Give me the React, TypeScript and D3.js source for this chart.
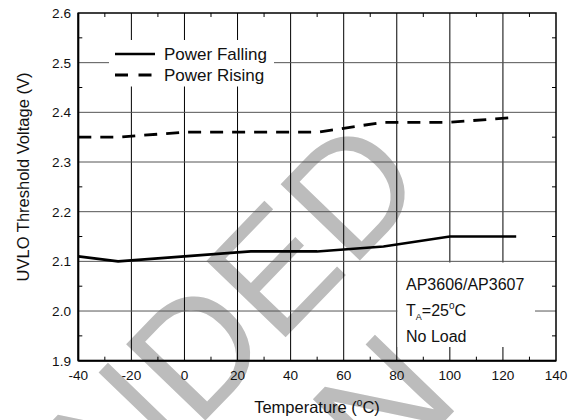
import React from "react";
import * as d3 from "d3";

// Temperature (°C) sample points
const temps = [-40, -25, 0, 25, 50, 75, 100, 125];
// UVLO threshold (V)
const powerFalling = [2.11, 2.1, 2.11, 2.12, 2.12, 2.13, 2.15, 2.15];
const powerRising = [2.35, 2.35, 2.36, 2.36, 2.36, 2.38, 2.38, 2.39];

const xTicks = [-40, -20, 0, 20, 40, 60, 80, 100, 120, 140];
const yTicks = [1.9, 2.0, 2.1, 2.2, 2.3, 2.4, 2.5, 2.6];
const xMinor = d3.range(-30, 140, 20);
const yMinor = [1.95, 2.05, 2.15, 2.25, 2.35, 2.45, 2.55];

const W = 582;
const H = 420;
const FONT = "'Liberation Sans', Arial, Helvetica, sans-serif";

export default function App() {
  const x = d3.scaleLinear().domain([-40, 140]).range([78.3, 556]);
  const y = d3.scaleLinear().domain([1.9, 2.6]).range([360.7, 13]);
  const [x0, x1] = x.range();
  const [yb, yt] = y.range();

  const line = d3
    .line<number>()
    .x((_, i) => x(temps[i]))
    .y((d) => y(d));

  const fmtY = d3.format(".1f");

  return (
    <svg
      width={W}
      height={H}
      style={{ position: "absolute", left: 0, top: 0, background: "#fff" }}
      fontFamily={FONT}
    >
      <rect width={W} height={H} fill="#fff" />

      {/* watermark */}
      <g fill="#bcbcbc" fontSize={160} fontFamily={FONT}>
        <text transform="translate(116,513) rotate(-46)">NDED</text>
        <text transform="translate(383,485) rotate(-46)">N</text>
      </g>

      {/* grid */}
      {xTicks.slice(1, -1).map((t) => (
        <line key={"gx" + t} x1={x(t)} x2={x(t)} y1={yt} y2={yb} stroke="#000" strokeWidth={1} />
      ))}
      {yTicks.slice(1, -1).map((t) => (
        <line key={"gy" + t} x1={x0} x2={x1} y1={y(t)} y2={y(t)} stroke="#555" strokeWidth={1} />
      ))}

      {/* legend and note panels */}
      <rect x={109} y={40} width={165} height={46.5} fill="#fff" />
      <rect x={397.5} y={262.5} width={137.5} height={84.5} fill="#fff" />

      {/* series */}
      <path d={line(powerFalling) ?? ""} fill="none" stroke="#000" strokeWidth={2.6} />
      <path
        d={line(powerRising) ?? ""}
        fill="none"
        stroke="#000"
        strokeWidth={2.8}
        strokeDasharray="13,9"
      />

      {/* frame */}
      <rect x={x0} y={yt} width={x1 - x0} height={yb - yt} fill="none" stroke="#000" strokeWidth={1.5} />
      <line x1={x0} x2={x0} y1={yt} y2={yb} stroke="#000" strokeWidth={2} />
      <line x1={x0} x2={x1} y1={yb} y2={yb} stroke="#000" strokeWidth={2} />

      {/* minor ticks */}
      {xMinor.map((t) => (
        <g key={"mx" + t}>
          <line x1={x(t)} x2={x(t)} y1={yb} y2={yb - 4} stroke="#000" strokeWidth={1} />
          <line x1={x(t)} x2={x(t)} y1={yt} y2={yt + 4} stroke="#000" strokeWidth={1} />
        </g>
      ))}
      {yMinor.map((t) => (
        <g key={"my" + t}>
          <line x1={x0} x2={x0 + 4} y1={y(t)} y2={y(t)} stroke="#000" strokeWidth={1} />
          <line x1={x1} x2={x1 - 4} y1={y(t)} y2={y(t)} stroke="#000" strokeWidth={1} />
        </g>
      ))}

      {/* tick labels */}
      <g fontSize={13.6} fill="#111">
        {xTicks.map((t) => (
          <text key={"lx" + t} x={x(t)} y={380} textAnchor="middle">
            {t}
          </text>
        ))}
        {yTicks.map((t) => (
          <text key={"ly" + t} x={71} y={y(t) + 5} textAnchor="end">
            {fmtY(t)}
          </text>
        ))}
      </g>

      {/* axis titles */}
      <text x={317} y={413} fontSize={16.5} textAnchor="middle" fill="#111">
        Temperature (<tspan fontSize={10} dy={-7}>o</tspan>
        <tspan dy={7}>C)</tspan>
      </text>
      <text
        transform="translate(29,177) rotate(-90)"
        fontSize={16.5}
        textAnchor="middle"
        fill="#111"
      >
        UVLO Threshold Voltage (V)
      </text>

      {/* legend */}
      <line x1={115} x2={155} y1={54} y2={54} stroke="#000" strokeWidth={2.6} />
      <line x1={115} x2={151.5} y1={75} y2={75} stroke="#000" strokeWidth={2.8} strokeDasharray="13,10.5" />
      <g fontSize={17} fill="#111">
        <text x={164} y={59.5}>Power Falling</text>
        <text x={164} y={80.5}>Power Rising</text>
      </g>

      {/* conditions */}
      <g fontSize={16} fill="#111">
        <text x={406} y={290}>AP3606/AP3607</text>
        <text x={406} y={316}>
          T<tspan fontSize={9} dy={4}>A</tspan>
          <tspan dy={-4}>=25</tspan>
          <tspan fontSize={10} dy={-7}>o</tspan>
          <tspan dy={7}>C</tspan>
        </text>
        <text x={406} y={342}>No Load</text>
      </g>
    </svg>
  );
}
